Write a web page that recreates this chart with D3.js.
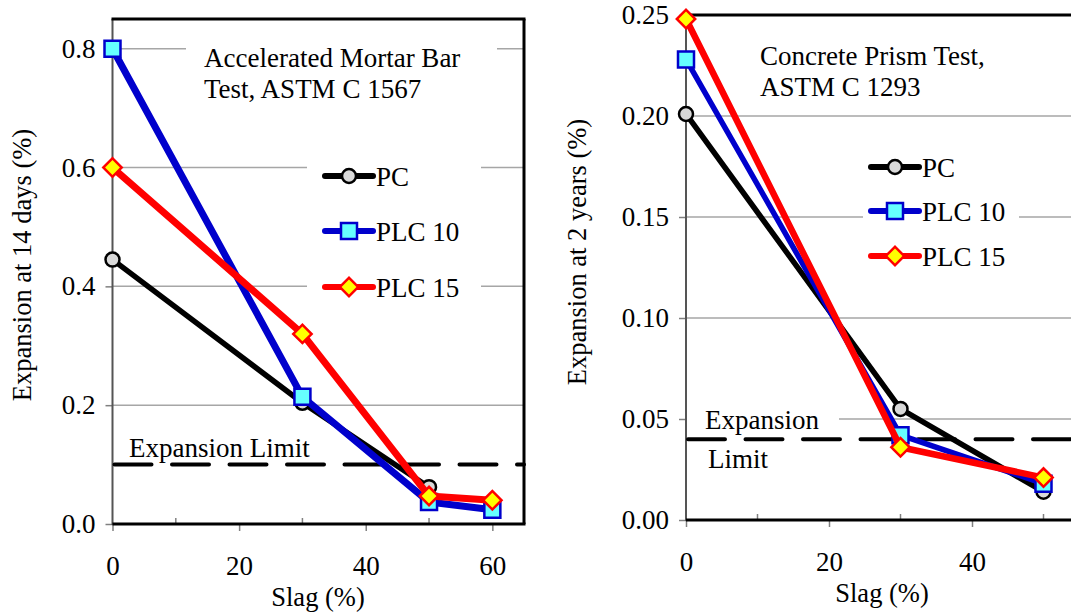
<!DOCTYPE html>
<html>
<head>
<meta charset="utf-8">
<script src="https://cdn.jsdelivr.net/npm/d3@7"></script>
<style>
  body { margin: 0; background: #fff; }
  svg text { font-family: 'Liberation Serif', 'Times New Roman', Times, 'DejaVu Serif', serif; }
  .tick text { font-size: 27px; fill: #000; }
</style>
</head>
<body>
<div id="chart"></div>
<script>
/**
 * DATA
 * */
// left panel: accelerated mortar bar test
const amtSlag = [0, 30, 50, 60];
const amtPC = [0.445, 0.204, 0.062, null]; // no PC point at 60
const amtPLC10 = [0.80, 0.214, 0.037, 0.024];
const amtPLC15 = [0.60, 0.32, 0.047, 0.04];
const amtLimit = 0.1;
const amtYTicks = [0, 0.2, 0.4, 0.6, 0.8];
const amtXTicks = [0, 20, 40, 60];

// right panel: concrete prism test
const cptSlag = [0, 30, 50];
const cptPC = [0.201, 0.055, 0.014];
const cptPLC10 = [0.228, 0.042, 0.018];
const cptPLC15 = [0.248, 0.036, 0.021];
const cptLimit = 0.04;
const cptYTicks = [0, 0.05, 0.10, 0.15, 0.20, 0.25];
const cptXTicks = [0, 20, 40];

const minorX = [10, 30, 50];
const seriesNames = ["PC", "PLC 10", "PLC 15"];

/**
 * STYLE
 * */
const width = 1071, height = 615;
const serif = "'Liberation Serif', 'Times New Roman', Times, 'DejaVu Serif', serif";
const styles = {
  "PC": { line: "#000000", fill: "#d9d9d9", stroke: "#000000", shape: "circle" },
  "PLC 10": { line: "#0000cc", fill: "#66ffff", stroke: "#0000cc", shape: "square" },
  "PLC 15": { line: "#ff0000", fill: "#ffff00", stroke: "#ff0000", shape: "diamond" }
};

const svg = d3.select("#chart").append("svg")
  .attr("width", width)
  .attr("height", height)
  .attr("font-family", serif);

function marker(g, shape, x, y) {
  if (shape === "circle") {
    g.append("path")
      .attr("d", d3.symbol().type(d3.symbolCircle).size(Math.PI * 7 * 7)())
      .attr("transform", `translate(${x},${y})`);
  } else if (shape === "square") {
    g.append("path")
      .attr("d", d3.symbol().type(d3.symbolSquare).size(16 * 16)())
      .attr("transform", `translate(${x},${y})`);
  } else {
    g.append("path")
      .attr("d", d3.symbol().type(d3.symbolSquare).size(13 * 13)())
      .attr("transform", `translate(${x},${y}) rotate(45)`);
  }
}

function drawPanel(p) {
  const x = d3.scaleLinear().domain(p.xDomain).range(p.xRange);
  const y = d3.scaleLinear().domain(p.yDomain).range(p.yRange);
  const g = svg.append("g");
  const [x0, x1] = p.xRange;
  const [yb, yt] = p.yRange;

  // gridlines
  g.append("g").selectAll("line")
    .data(p.yTicks.filter(d => d > 0 && d < p.yDomain[1]))
    .join("line")
    .attr("x1", x0).attr("x2", x1)
    .attr("y1", d => y(d)).attr("y2", d => y(d))
    .attr("stroke", "#a6a6a6")
    .attr("stroke-width", 1.5);

  // white boxes behind the text blocks (they hide the gridlines)
  p.boxes.forEach(b => {
    g.append("rect").attr("x", b[0]).attr("y", b[1])
      .attr("width", b[2]).attr("height", b[3]).attr("fill", "#fff");
  });

  // axes
  const yAxis = d3.axisLeft(y).tickValues(p.yTicks).tickSize(7).tickPadding(10)
    .tickFormat(d3.format(p.yFormat));
  const yg = g.append("g").attr("transform", `translate(${x0},0)`).call(yAxis)
    .attr("font-family", serif);
  yg.select(".domain").remove();
  yg.selectAll(".tick line").attr("stroke", "#808080").attr("stroke-width", 1.5);

  const xAxis = d3.axisBottom(x).tickValues(p.xTicks).tickSize(7).tickPadding(25)
    .tickFormat(d3.format("d"));
  const xg = g.append("g").attr("transform", `translate(0,${yb})`).call(xAxis)
    .attr("font-family", serif);
  xg.select(".domain").remove();
  xg.selectAll(".tick line").attr("stroke", "#808080").attr("stroke-width", 1.5);

  // minor ticks point inward
  g.append("g").selectAll("line")
    .data(minorX)
    .join("line")
    .attr("x1", d => x(d)).attr("x2", d => x(d))
    .attr("y1", yb).attr("y2", yb - 6)
    .attr("stroke", "#808080").attr("stroke-width", 1.5);

  // plot frame
  g.append("line").attr("x1", x0).attr("x2", x0).attr("y1", yt).attr("y2", yb + 1)
    .attr("stroke", "#555").attr("stroke-width", 2);
  g.append("line").attr("x1", x0).attr("x2", x1 + 1.5).attr("y1", yb).attr("y2", yb)
    .attr("stroke", "#000").attr("stroke-width", 3);
  g.append("line").attr("x1", x0 - 1).attr("x2", x1 + 1.5).attr("y1", yt).attr("y2", yt)
    .attr("stroke", "#000").attr("stroke-width", 3);
  g.append("line").attr("x1", x1).attr("x2", x1).attr("y1", yt).attr("y2", yb)
    .attr("stroke", "#000").attr("stroke-width", 3);

  // expansion limit
  g.append("line")
    .attr("x1", x0).attr("x2", x1)
    .attr("y1", y(p.limit)).attr("y2", y(p.limit))
    .attr("stroke", "#000").attr("stroke-width", 4)
    .attr("stroke-dasharray", "37,20.5")
    .attr("stroke-dashoffset", -2)
    .attr("stroke-linecap", "round");

  p.limitText.forEach(t => {
    g.append("text").attr("x", t[1]).attr("y", t[2])
      .attr("font-size", 27).text(t[0]);
  });

  // series
  const line = d3.line()
    .defined(d => d[1] != null)
    .x(d => x(d[0]))
    .y(d => y(d[1]));

  seriesNames.forEach((name, i) => {
    const s = styles[name];
    const pts = p.xs.map((v, j) => [v, p.series[i][j]]);
    g.append("path")
      .datum(pts)
      .attr("d", line)
      .attr("fill", "none")
      .attr("stroke", s.line)
      .attr("stroke-width", p.lineWidths[i])
      .attr("stroke-linejoin", "round");
    const mg = g.append("g")
      .attr("fill", s.fill).attr("stroke", s.stroke).attr("stroke-width", 2.5);
    pts.filter(d => d[1] != null).forEach(d => marker(mg, s.shape, x(d[0]), y(d[1])));
  });

  // title
  p.title.forEach((t, i) => {
    g.append("text").attr("x", p.titleX).attr("y", p.titleY + i * 31)
      .attr("font-size", 27).text(t);
  });

  // legend
  seriesNames.forEach((name, i) => {
    const s = styles[name];
    const ly = p.legendY[i];
    const lg = g.append("g");
    lg.append("line")
      .attr("x1", p.legendX).attr("x2", p.legendX + 48)
      .attr("y1", ly).attr("y2", ly)
      .attr("stroke", s.line).attr("stroke-width", 6)
      .attr("stroke-linecap", "round");
    const mg = lg.append("g")
      .attr("fill", s.fill).attr("stroke", s.stroke).attr("stroke-width", 2.5);
    marker(mg, s.shape, p.legendX + 24, ly);
    lg.append("text")
      .attr("x", p.legendX + 51).attr("y", ly + 10)
      .attr("font-size", 27).text(name);
  });

  // axis titles
  g.append("text")
    .attr("x", p.xLabelX)
    .attr("y", p.xLabelY)
    .attr("text-anchor", "middle")
    .attr("font-size", 26.5)
    .text("Slag (%)");

  g.append("text")
    .attr("transform", `translate(${p.yLabelX},${p.yLabelY}) rotate(-90)`)
    .attr("text-anchor", "middle")
    .attr("font-size", 26.5)
    .text(p.yLabel);
}

drawPanel({
  xDomain: [0, 65], xRange: [112.5, 524],
  yDomain: [0, 0.85], yRange: [524, 19],
  yTicks: amtYTicks, xTicks: amtXTicks, yFormat: ".1f",
  xs: amtSlag, series: [amtPC, amtPLC10, amtPLC15],
  lineWidths: [5.5, 7, 7],
  limit: amtLimit,
  limitText: [["Expansion Limit", 129, 457]],
  title: ["Accelerated Mortar Bar", "Test, ASTM C 1567"], titleX: 204, titleY: 67,
  legendX: 325, legendY: [176, 231, 287],
  boxes: [[186, 40, 311, 68], [307, 150, 174, 150]],
  xLabelX: 318, xLabelY: 606,
  yLabel: "Expansion at 14 days (%)", yLabelX: 31, yLabelY: 265
});

drawPanel({
  xDomain: [0, 60], xRange: [686, 1115],
  yDomain: [0, 0.25], yRange: [520, 15],
  yTicks: cptYTicks, xTicks: cptXTicks, yFormat: ".2f",
  xs: cptSlag, series: [cptPC, cptPLC10, cptPLC15],
  lineWidths: [5.5, 5.5, 6.5],
  limit: cptLimit,
  limitText: [["Expansion", 705, 429], ["Limit", 708, 468]],
  title: ["Concrete Prism  Test,", "ASTM C 1293"], titleX: 760, titleY: 65,
  legendX: 871, legendY: [167, 211, 256],
  boxes: [[686, 400, 153, 34], [863, 145, 156, 125]],
  xLabelX: 882, xLabelY: 602,
  yLabel: "Expansion at 2 years  (%)", yLabelX: 586, yLabelY: 252
});
</script>
</body>
</html>
